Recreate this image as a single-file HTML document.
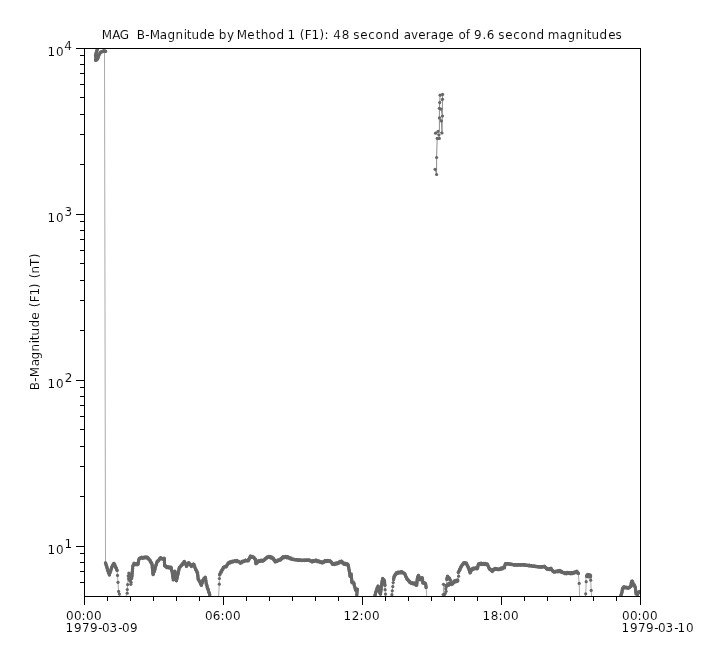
<!DOCTYPE html>
<html lang="en"><head><meta charset="utf-8"><title>MAG B-Magnitude</title>
<style>html,body{margin:0;padding:0;background:#fff}body{width:724px;height:656px;overflow:hidden}svg{display:block;will-change:transform}text{font-kerning:none;font-family:"DejaVu Sans","Liberation Sans",sans-serif;font-size:12px;fill:#000;stroke:#fff;stroke-width:0.1px}</style></head><body>
<svg width="724" height="656" viewBox="0 0 724 656">
<rect width="724" height="656" fill="#fff"/>
<defs><clipPath id="c"><rect x="85" y="49" width="555" height="547"/></clipPath></defs>
<g clip-path="url(#c)">
<g fill="none" stroke="#aaaaaa" stroke-width="1">
<polyline points="104.5,51.0 105.5,563.0"/>
<polyline points="117.1,570.4 117.5,575.4 118.0,582.3 118.6,591.4 119.4,594.1 120.0,596.0"/>
<polyline points="126.0,596.0 127.2,593.2 127.3,589.5 127.6,584.6 128.8,573.0 128.2,575.9 128.5,578.5 131.7,578.5 131.1,582.3 130.8,584.3 129.4,580.3 130.2,576.5 129.6,573.8 130.6,579.6 128.8,573.0"/>
<polyline points="209.7,594.7 210.0,596.0"/>
<polyline points="218.6,596.0 219.3,584.2 219.4,578.5 219.7,574.3"/>
<polyline points="384.9,585.3 385.1,589.7 385.5,594.1 385.6,596.0"/>
<polyline points="426.1,587.5 426.7,596.0"/>
<polyline points="391.8,596.0 391.9,594.7 392.3,590.8 392.8,586.6 393.2,582.6 393.6,579.5"/>
<polyline points="443.3,596.0 443.5,584.3 443.9,596.0"/>
<polyline points="443.6,596.0 443.5,584.3"/>
<polyline points="445.2,593.6 446.1,591.3 445.8,588.8 446.1,586.0 446.8,579.5"/>
<polyline points="457.7,580.3 458.6,576.2 458.3,572.4"/>
<polyline points="578.4,574.8 579.2,583.4 579.6,596.0"/>
<polyline points="585.5,596.0 585.7,593.8 586.2,581.7 585.9,577.6"/>
<polyline points="591.4,577.1 590.7,580.2 591.2,590.4 591.5,596.0"/>
<polyline stroke="#8c8c8c" points="435.1,169.3 436.6,174.5 436.6,157.5 437.2,138.4 439.3,138.4 438.9,134.8 435.5,133.2 438.0,131.4 442.0,133.0 441.4,120.9 439.4,117.9 442.5,116.0 441.0,109.1 439.4,108.3 439.7,102.6 442.5,99.3 442.6,94.4 440.1,95.2 439.4,108.3 439.4,131.0"/>
<polyline stroke="#8c8c8c" points="442.5,99.3 442.0,133.0"/>
</g>
<g fill="none" stroke="#666666" stroke-width="3.0" stroke-linecap="round" stroke-linejoin="round">
<polyline points="95.6,60.3 96.0,57.5 95.5,55.6 96.2,53.0 96.8,51.2 97.3,49.5"/>
<polyline points="96.6,60.0 97.8,58.5 98.9,55.0 100.6,52.3 103.3,51.1 105.6,51.3"/>
<polyline points="105.5,563.0 106.7,566.5 107.8,570.4 109.4,574.8 111.6,567.6 113.8,563.2 116.0,567.6 117.1,570.4"/>
<polyline points="131.9,577.0 132.3,572.0 132.8,566.5 134.0,563.8 138.1,564.3 138.7,559.9 140.4,557.7 147.5,557.7 150.3,561.0 152.0,564.3 153.1,574.8 154.7,569.8 156.9,562.1 160.2,558.2 164.4,558.8 164.6,565.4 166.6,567.1 171.0,567.6 172.2,572.0 173.3,579.8 174.9,571.0 176.4,580.9 178.2,573.1 179.3,567.6 182.1,564.9 184.3,561.5 186.5,566.0 188.7,562.7 191.5,566.0 193.7,564.3 195.9,569.8 197.6,573.1 198.1,578.7 201.4,585.3 203.1,579.8 205.3,577.6 206.4,584.2 208.1,589.7 209.7,594.7"/>
<polyline points="219.7,574.3 221.3,571.5 223.5,567.6 226.3,566.5 228.5,563.2 231.8,561.5 237.3,561.0 240.4,562.7 244.8,561.0 248.2,560.4 250.4,556.6 253.7,557.1 255.3,559.3 255.9,563.8 258.1,561.5 263.6,560.4 266.9,557.7 269.1,556.6 273.0,558.2 275.2,561.5 280.2,559.9 283.0,557.1 287.9,557.1 292.4,559.3 296.8,559.9 302.3,560.4 308.9,560.1 312.2,561.5 315.3,560.4 321.9,562.7 325.3,561.0 330.2,561.0 333.0,564.3 337.4,563.2 341.3,561.5 344.0,563.8 347.9,564.3 349.0,569.3 349.6,573.1 350.1,576.5 351.2,574.3 351.8,582.0 354.0,583.1 354.5,586.4 355.6,589.7 357.3,589.2 356.8,594.7"/>
<polyline points="375.0,595.2 376.1,591.4 378.1,585.9 379.4,591.9 380.5,594.1 381.6,584.2 382.7,578.7 384.4,580.9 384.9,585.3"/>
<polyline points="393.6,579.5 394.1,576.5 396.3,573.1 401.3,572.0 404.6,573.7 406.8,578.7 410.1,582.5 414.5,583.6 416.7,585.3 417.3,578.7 418.4,575.4 420.0,579.8 422.3,577.6 422.8,582.5 425.6,583.6 426.1,587.5"/>
<polyline points="446.1,585.9 449.0,584.5 452.0,583.1 455.0,581.7 457.7,580.3"/>
<polyline points="446.1,586.6 449.0,583.6 452.0,583.9 455.0,580.9 457.7,581.0"/>
<polyline points="446.8,579.5 447.6,576.6 448.6,577.6 450.3,580.0"/>
<polyline points="458.3,572.4 459.8,569.5 461.0,566.8 462.3,564.8 463.8,563.3 465.2,562.9 466.5,563.8 468.4,567.6 470.1,573.1 471.7,569.3 475.0,568.2 477.3,568.7 478.4,564.3 481.7,563.8 487.2,564.3 489.4,568.7 492.2,570.9 494.9,568.7 499.4,569.3 504.3,567.6 505.4,563.8 508.2,563.8 513.7,564.9 523.7,564.9 532.5,566.0 540.2,567.1 544.4,566.5 547.2,569.3 551.0,568.7 553.8,572.0 559.3,570.9 564.9,573.1 573.1,573.1 576.5,571.5 578.4,573.5"/>
<polyline points="586.6,576.4 587.2,575.0 590.2,575.0 590.6,576.3 587.0,576.3"/>
<polyline points="620.9,595.2 622.0,592.5 622.5,588.6 624.2,587.0 628.6,588.1 630.8,586.4 631.4,582.2 632.3,581.2 633.4,584.2 635.0,586.5 635.6,589.8 636.0,593.3 637.4,594.2 638.6,592.2 639.7,591.5"/>
</g>
<path d="M95.6 60.2h0M95.8 58.8h0M96.0 57.6h0M95.8 56.4h0M95.5 55.6h0M95.8 54.2h0M96.2 52.8h0M96.5 52.1h0M96.8 51.0h0M97.0 50.3h0M97.3 49.5h0M96.6 59.8h0M96.9 59.5h0M97.2 59.2h0M97.5 59.0h0M97.8 58.3h0M98.1 57.5h0M98.3 56.8h0M98.6 56.1h0M98.9 55.0h0M99.2 54.5h0M99.5 54.3h0M99.8 53.5h0M100.0 53.3h0M100.3 52.7h0M100.6 52.2h0M100.9 52.0h0M101.2 52.0h0M101.5 52.0h0M101.8 51.6h0M102.1 51.7h0M102.4 51.6h0M102.7 51.3h0M103.0 51.3h0M103.3 50.9h0M103.6 51.0h0M104.0 51.0h0M104.3 51.3h0M104.6 51.2h0M104.9 51.2h0M105.3 51.3h0M105.6 51.3h0M105.5 562.9h0M105.8 563.6h0M106.1 565.1h0M106.4 565.9h0M106.7 566.2h0M107.0 567.6h0M107.2 568.5h0M107.5 569.9h0M107.8 570.7h0M108.1 571.0h0M108.4 572.8h0M108.8 572.5h0M109.1 573.8h0M109.4 575.1h0M109.7 573.3h0M110.0 572.7h0M110.3 571.1h0M110.7 570.9h0M111.0 570.0h0M111.3 568.7h0M111.6 568.1h0M111.9 566.7h0M112.2 566.6h0M112.5 565.8h0M112.9 565.2h0M113.2 564.4h0M113.5 564.3h0M113.8 563.8h0M114.1 563.8h0M114.4 564.7h0M114.7 564.5h0M115.1 566.0h0M115.4 566.5h0M115.7 567.6h0M116.0 568.0h0M116.3 568.0h0M116.5 568.9h0M116.8 569.9h0M117.1 570.4h0M131.9 576.4h0M132.0 575.3h0M132.2 573.2h0M132.3 571.5h0M132.5 569.6h0M132.6 568.7h0M132.8 566.0h0M133.1 565.5h0M133.4 565.0h0M133.7 565.0h0M134.0 563.3h0M134.3 563.8h0M134.6 563.9h0M134.9 564.4h0M135.3 564.4h0M135.6 564.5h0M135.9 563.7h0M136.2 564.0h0M136.5 563.9h0M136.8 564.6h0M137.2 564.8h0M137.5 563.8h0M137.8 563.8h0M138.1 564.0h0M138.3 562.5h0M138.5 561.3h0M138.7 560.0h0M139.0 559.2h0M139.3 558.5h0M139.6 558.7h0M139.8 558.3h0M140.1 558.2h0M140.4 558.3h0M140.7 557.9h0M141.0 557.7h0M141.3 557.9h0M141.6 557.9h0M141.9 557.1h0M142.3 558.2h0M142.6 558.1h0M142.9 558.2h0M143.2 558.1h0M143.5 557.6h0M143.8 557.6h0M144.1 557.2h0M144.4 557.9h0M144.7 557.1h0M145.0 557.1h0M145.3 557.3h0M145.6 557.3h0M146.0 557.5h0M146.3 557.1h0M146.6 557.1h0M146.9 557.2h0M147.2 557.2h0M147.5 557.5h0M147.8 557.4h0M148.1 558.9h0M148.4 558.9h0M148.7 558.7h0M149.1 559.2h0M149.4 559.7h0M149.7 560.1h0M150.0 560.1h0M150.3 561.5h0M150.6 562.2h0M150.9 562.1h0M151.2 562.6h0M151.4 562.7h0M151.7 563.2h0M152.0 564.1h0M152.2 565.5h0M152.3 567.7h0M152.5 568.4h0M152.6 569.7h0M152.8 572.4h0M152.9 573.3h0M153.1 574.3h0M153.4 573.9h0M153.7 572.2h0M154.1 571.8h0M154.4 571.4h0M154.7 570.3h0M155.0 569.0h0M155.3 567.3h0M155.6 566.3h0M156.0 565.0h0M156.3 564.7h0M156.6 563.2h0M156.9 562.5h0M157.2 561.5h0M157.5 561.0h0M157.8 561.4h0M158.1 561.3h0M158.4 560.8h0M158.7 560.4h0M159.0 560.0h0M159.3 559.6h0M159.6 558.6h0M159.9 558.6h0M160.2 558.0h0M160.5 557.6h0M160.8 557.7h0M161.1 558.0h0M161.4 558.1h0M161.7 558.7h0M162.0 559.1h0M162.3 558.4h0M162.6 559.1h0M162.9 559.2h0M163.2 559.2h0M163.5 558.5h0M163.8 558.4h0M164.1 558.4h0M164.4 558.4h0M164.4 560.1h0M164.5 562.3h0M164.6 564.3h0M164.6 565.8h0M164.9 565.7h0M165.3 566.2h0M165.6 566.6h0M165.9 566.0h0M166.3 567.0h0M166.6 567.6h0M166.9 567.5h0M167.2 567.5h0M167.5 567.2h0M167.9 566.8h0M168.2 567.7h0M168.5 567.1h0M168.8 567.7h0M169.1 568.0h0M169.4 567.3h0M169.7 567.3h0M170.1 568.1h0M170.4 567.8h0M170.7 567.1h0M171.0 567.1h0M171.3 568.2h0M171.6 570.3h0M171.9 571.3h0M172.2 571.5h0M172.4 574.0h0M172.6 575.7h0M172.9 576.9h0M173.1 578.0h0M173.3 579.9h0M173.6 577.9h0M173.8 576.2h0M174.1 576.0h0M174.4 574.1h0M174.6 572.5h0M174.9 571.6h0M175.2 572.6h0M175.4 574.8h0M175.7 576.4h0M175.9 577.2h0M176.2 578.9h0M176.4 580.6h0M176.7 579.3h0M177.0 578.4h0M177.3 576.7h0M177.6 575.6h0M177.9 573.9h0M178.2 573.6h0M178.5 571.5h0M178.8 570.3h0M179.0 569.1h0M179.3 568.1h0M179.6 567.2h0M179.9 567.5h0M180.2 566.7h0M180.5 566.4h0M180.9 566.1h0M181.2 565.2h0M181.5 565.4h0M181.8 564.8h0M182.1 564.3h0M182.4 564.8h0M182.7 563.5h0M183.0 563.4h0M183.4 563.2h0M183.7 562.5h0M184.0 561.8h0M184.3 561.5h0M184.6 562.2h0M184.9 563.2h0M185.2 562.9h0M185.6 564.1h0M185.9 564.4h0M186.2 565.1h0M186.5 566.4h0M186.8 565.5h0M187.1 565.1h0M187.4 564.9h0M187.8 564.7h0M188.1 563.6h0M188.4 563.3h0M188.7 562.7h0M189.0 563.1h0M189.3 563.7h0M189.6 563.7h0M189.9 564.2h0M190.3 564.5h0M190.6 565.5h0M190.9 565.5h0M191.2 566.1h0M191.5 566.6h0M191.8 565.4h0M192.1 565.6h0M192.4 565.8h0M192.8 565.5h0M193.1 564.3h0M193.4 564.1h0M193.7 564.2h0M194.0 564.5h0M194.3 565.5h0M194.6 566.1h0M195.0 567.7h0M195.3 568.6h0M195.6 569.5h0M195.9 569.4h0M196.2 570.6h0M196.5 571.1h0M196.8 571.0h0M197.0 572.5h0M197.3 573.2h0M197.6 572.7h0M197.7 575.1h0M197.8 575.8h0M198.0 577.3h0M198.1 579.3h0M198.4 579.7h0M198.7 579.5h0M199.0 580.4h0M199.3 581.1h0M199.6 581.5h0M199.9 581.9h0M200.2 582.7h0M200.5 583.8h0M200.8 583.5h0M201.1 584.8h0M201.4 585.2h0M201.7 583.8h0M202.0 583.2h0M202.2 582.7h0M202.5 581.6h0M202.8 580.2h0M203.1 580.4h0M203.4 579.9h0M203.7 579.8h0M204.0 578.3h0M204.4 578.2h0M204.7 577.6h0M205.0 578.3h0M205.3 577.3h0M205.6 578.8h0M205.9 580.8h0M206.1 583.1h0M206.4 584.6h0M206.7 584.8h0M207.0 585.6h0M207.2 587.5h0M207.5 588.0h0M207.8 589.0h0M208.1 589.2h0M208.4 590.1h0M208.7 591.9h0M209.1 592.6h0M209.4 593.1h0M209.7 594.7h0M219.7 574.9h0M220.0 573.9h0M220.3 573.6h0M220.7 572.1h0M221.0 572.5h0M221.3 570.9h0M221.6 571.4h0M221.9 570.3h0M222.2 569.6h0M222.6 569.3h0M222.9 569.3h0M223.2 567.9h0M223.5 567.1h0M223.8 567.5h0M224.1 567.0h0M224.4 566.7h0M224.7 566.7h0M225.1 566.4h0M225.4 566.5h0M225.7 566.5h0M226.0 566.4h0M226.3 566.8h0M226.6 565.8h0M226.9 565.6h0M227.2 564.7h0M227.6 564.4h0M227.9 563.5h0M228.2 563.3h0M228.5 562.6h0M228.8 563.3h0M229.1 563.0h0M229.4 562.3h0M229.7 562.5h0M230.0 563.0h0M230.3 561.8h0M230.6 562.5h0M230.9 561.9h0M231.2 561.8h0M231.5 562.1h0M231.8 561.4h0M232.1 561.5h0M232.4 561.7h0M232.7 562.0h0M233.0 561.2h0M233.3 561.8h0M233.6 561.6h0M233.9 561.5h0M234.2 561.2h0M234.6 561.1h0M234.9 560.6h0M235.2 560.7h0M235.5 560.6h0M235.8 561.5h0M236.1 560.8h0M236.4 560.6h0M236.7 560.5h0M237.0 561.5h0M237.3 561.5h0M237.6 561.4h0M237.9 561.1h0M238.2 561.2h0M238.5 561.4h0M238.9 561.8h0M239.2 561.6h0M239.5 562.1h0M239.8 562.1h0M240.1 563.1h0M240.4 563.3h0M240.7 562.6h0M241.0 562.1h0M241.3 562.9h0M241.7 562.0h0M242.0 561.9h0M242.3 561.3h0M242.6 561.7h0M242.9 561.7h0M243.2 561.6h0M243.5 561.1h0M243.9 561.4h0M244.2 560.6h0M244.5 560.8h0M244.8 560.5h0M245.1 560.8h0M245.4 560.3h0M245.7 560.2h0M246.0 560.5h0M246.3 560.4h0M246.7 560.8h0M247.0 560.7h0M247.3 560.9h0M247.6 560.7h0M247.9 560.7h0M248.2 560.9h0M248.5 559.7h0M248.8 559.1h0M249.1 559.4h0M249.5 557.8h0M249.8 558.0h0M250.1 557.3h0M250.4 556.0h0M250.7 557.1h0M251.0 557.2h0M251.3 556.9h0M251.6 557.1h0M251.9 557.2h0M252.2 556.4h0M252.5 556.9h0M252.8 557.0h0M253.1 557.4h0M253.4 557.5h0M253.7 557.5h0M254.0 557.6h0M254.3 558.5h0M254.7 558.7h0M255.0 559.1h0M255.3 558.9h0M255.5 560.2h0M255.7 561.8h0M255.9 563.6h0M256.2 563.0h0M256.5 563.6h0M256.8 562.9h0M257.2 562.7h0M257.5 562.3h0M257.8 562.1h0M258.1 561.5h0M258.4 560.8h0M258.7 561.8h0M259.0 561.6h0M259.3 561.3h0M259.6 561.2h0M259.9 561.3h0M260.2 560.5h0M260.5 561.3h0M260.9 560.6h0M261.2 560.3h0M261.5 560.5h0M261.8 561.1h0M262.1 560.3h0M262.4 561.0h0M262.7 561.2h0M263.0 560.5h0M263.3 560.3h0M263.6 560.4h0M263.9 560.4h0M264.2 560.3h0M264.5 559.8h0M264.8 559.6h0M265.1 558.6h0M265.4 558.5h0M265.7 558.4h0M266.0 558.8h0M266.3 557.9h0M266.6 558.0h0M266.9 557.1h0M267.2 557.0h0M267.5 557.1h0M267.8 557.5h0M268.2 557.3h0M268.5 557.1h0M268.8 556.5h0M269.1 556.6h0M269.4 556.7h0M269.7 556.8h0M270.0 556.5h0M270.3 557.6h0M270.6 556.8h0M270.9 558.0h0M271.2 558.0h0M271.5 557.0h0M271.8 557.7h0M272.1 558.2h0M272.4 558.6h0M272.7 558.0h0M273.0 557.9h0M273.3 558.3h0M273.6 559.7h0M273.9 559.2h0M274.3 560.2h0M274.6 560.1h0M274.9 561.1h0M275.2 562.1h0M275.5 560.9h0M275.8 561.7h0M276.1 561.2h0M276.4 561.6h0M276.8 561.3h0M277.1 560.6h0M277.4 561.3h0M277.7 560.7h0M278.0 560.0h0M278.3 559.9h0M278.6 560.4h0M278.9 560.2h0M279.3 559.9h0M279.6 559.6h0M279.9 559.8h0M280.2 559.7h0M280.5 560.0h0M280.8 558.6h0M281.1 559.3h0M281.4 559.1h0M281.8 557.9h0M282.1 558.6h0M282.4 558.0h0M282.7 557.9h0M283.0 556.8h0M283.3 556.9h0M283.6 557.0h0M283.9 557.7h0M284.2 557.2h0M284.5 556.9h0M284.8 557.0h0M285.1 556.8h0M285.4 556.5h0M285.8 556.6h0M286.1 557.5h0M286.4 556.8h0M286.7 557.7h0M287.0 556.8h0M287.3 556.8h0M287.6 557.1h0M287.9 556.7h0M288.2 557.1h0M288.5 558.0h0M288.8 558.0h0M289.1 558.1h0M289.4 558.0h0M289.7 558.5h0M290.0 558.7h0M290.3 558.3h0M290.6 558.7h0M290.9 558.0h0M291.2 559.0h0M291.5 558.8h0M291.8 559.3h0M292.1 559.2h0M292.4 559.2h0M292.7 559.1h0M293.0 559.6h0M293.3 559.2h0M293.7 559.5h0M294.0 559.4h0M294.3 559.5h0M294.6 559.7h0M294.9 559.9h0M295.2 559.6h0M295.5 559.8h0M295.9 559.7h0M296.2 559.8h0M296.5 559.8h0M296.8 559.7h0M297.1 559.8h0M297.4 559.8h0M297.7 560.2h0M298.0 560.0h0M298.3 559.9h0M298.6 560.3h0M298.9 560.3h0M299.2 560.1h0M299.6 560.0h0M299.9 560.0h0M300.2 560.0h0M300.5 560.2h0M300.8 560.1h0M301.1 560.2h0M301.4 560.2h0M301.7 560.4h0M302.0 560.6h0M302.3 560.5h0M302.6 560.3h0M302.9 560.3h0M303.2 560.4h0M303.6 560.3h0M303.9 560.2h0M304.2 560.1h0M304.5 560.2h0M304.8 560.5h0M305.1 560.1h0M305.4 560.3h0M305.8 560.3h0M306.1 560.4h0M306.4 560.1h0M306.7 560.1h0M307.0 560.1h0M307.3 560.1h0M307.6 560.1h0M308.0 560.4h0M308.3 560.3h0M308.6 560.3h0M308.9 559.9h0M309.2 560.0h0M309.5 560.5h0M309.8 560.7h0M310.1 560.6h0M310.4 560.8h0M310.7 560.6h0M311.0 560.9h0M311.3 561.3h0M311.6 561.4h0M311.9 561.6h0M312.2 562.1h0M312.5 561.1h0M312.8 560.8h0M313.1 560.7h0M313.4 561.1h0M313.8 561.2h0M314.1 561.4h0M314.4 561.0h0M314.7 560.8h0M315.0 560.9h0M315.3 560.3h0M315.6 560.6h0M315.9 560.0h0M316.2 561.1h0M316.6 560.5h0M316.9 561.5h0M317.2 561.2h0M317.5 560.9h0M317.8 560.8h0M318.1 561.1h0M318.4 561.7h0M318.8 561.9h0M319.1 561.2h0M319.4 561.3h0M319.7 562.0h0M320.0 562.2h0M320.3 562.0h0M320.6 561.9h0M321.0 562.5h0M321.3 561.8h0M321.6 562.3h0M321.9 562.6h0M322.2 563.1h0M322.5 562.6h0M322.8 562.7h0M323.1 562.0h0M323.4 561.6h0M323.8 561.4h0M324.1 562.2h0M324.4 561.7h0M324.7 561.1h0M325.0 560.5h0M325.3 561.0h0M325.6 561.2h0M325.9 560.9h0M326.2 560.7h0M326.5 561.2h0M326.8 561.6h0M327.1 560.6h0M327.4 560.4h0M327.8 560.8h0M328.1 560.9h0M328.4 561.2h0M328.7 560.6h0M329.0 561.4h0M329.3 561.3h0M329.6 561.0h0M329.9 560.6h0M330.2 561.6h0M330.5 561.1h0M330.8 562.1h0M331.1 561.8h0M331.4 562.1h0M331.8 563.2h0M332.1 562.9h0M332.4 564.2h0M332.7 563.9h0M333.0 563.9h0M333.3 563.9h0M333.6 564.0h0M333.9 564.3h0M334.3 564.6h0M334.6 563.4h0M334.9 563.7h0M335.2 563.4h0M335.5 564.3h0M335.8 563.1h0M336.1 562.9h0M336.5 562.9h0M336.8 563.2h0M337.1 563.8h0M337.4 563.7h0M337.7 563.4h0M338.0 563.6h0M338.3 563.4h0M338.6 562.5h0M338.9 562.1h0M339.2 563.0h0M339.5 562.6h0M339.8 561.5h0M340.1 562.2h0M340.4 561.7h0M340.7 561.6h0M341.0 561.4h0M341.3 561.1h0M341.6 561.1h0M341.9 561.7h0M342.2 562.1h0M342.5 563.1h0M342.8 562.3h0M343.1 563.6h0M343.4 562.9h0M343.7 563.4h0M344.0 564.2h0M344.3 564.3h0M344.6 563.8h0M344.9 563.3h0M345.2 563.9h0M345.5 563.8h0M345.8 564.6h0M346.1 563.7h0M346.4 563.9h0M346.7 564.7h0M347.0 563.6h0M347.3 564.1h0M347.6 564.7h0M347.9 564.6h0M348.2 565.0h0M348.4 566.2h0M348.7 567.5h0M349.0 569.8h0M349.3 570.9h0M349.6 573.4h0M349.9 575.3h0M350.1 576.3h0M350.4 575.7h0M350.6 576.0h0M350.9 575.0h0M351.2 574.0h0M351.3 576.1h0M351.4 577.1h0M351.6 578.6h0M351.7 579.8h0M351.8 582.3h0M352.1 582.7h0M352.4 582.5h0M352.7 583.0h0M353.1 582.0h0M353.4 582.4h0M353.7 582.9h0M354.0 583.7h0M354.2 585.3h0M354.5 586.3h0M354.8 586.9h0M355.1 588.0h0M355.3 588.9h0M355.6 590.3h0M355.9 589.2h0M356.2 589.9h0M356.5 589.8h0M356.7 589.8h0M357.0 589.6h0M357.3 589.3h0M357.1 590.8h0M357.0 592.6h0M356.8 594.7h0M375.0 595.0h0M375.3 594.6h0M375.6 592.8h0M375.8 592.0h0M376.1 591.7h0M376.4 590.2h0M376.8 589.0h0M377.1 588.0h0M377.4 587.8h0M377.8 586.6h0M378.1 586.5h0M378.4 587.9h0M378.8 589.5h0M379.1 590.1h0M379.4 591.4h0M379.7 591.9h0M379.9 593.0h0M380.2 593.8h0M380.5 594.0h0M380.7 592.1h0M380.9 590.7h0M381.1 589.3h0M381.2 587.7h0M381.4 586.2h0M381.6 584.7h0M381.9 583.0h0M382.1 581.0h0M382.4 580.5h0M382.7 578.4h0M383.0 579.2h0M383.3 579.3h0M383.5 580.1h0M383.8 579.8h0M384.1 580.2h0M384.4 580.6h0M384.6 581.9h0M384.7 584.3h0M384.9 585.3h0M393.6 579.6h0M393.9 577.8h0M394.1 576.4h0M394.4 576.7h0M394.7 575.5h0M395.0 574.7h0M395.4 575.0h0M395.7 574.3h0M396.0 574.2h0M396.3 572.6h0M396.6 573.0h0M396.9 573.4h0M397.2 573.3h0M397.6 573.4h0M397.9 572.2h0M398.2 572.4h0M398.5 572.1h0M398.8 572.1h0M399.1 573.1h0M399.4 572.5h0M399.7 572.9h0M400.1 572.1h0M400.4 572.7h0M400.7 572.1h0M401.0 571.8h0M401.3 572.4h0M401.6 572.7h0M401.9 571.8h0M402.2 572.6h0M402.5 572.8h0M402.8 572.4h0M403.1 572.8h0M403.4 572.6h0M403.7 572.9h0M404.0 573.1h0M404.3 573.7h0M404.6 573.9h0M404.9 574.0h0M405.2 574.5h0M405.5 575.6h0M405.9 576.8h0M406.2 576.9h0M406.5 577.7h0M406.8 578.3h0M407.1 579.4h0M407.4 579.5h0M407.7 579.2h0M408.0 579.6h0M408.3 580.3h0M408.6 580.8h0M408.9 581.3h0M409.2 580.9h0M409.5 581.4h0M409.8 582.4h0M410.1 582.4h0M410.4 582.3h0M410.7 582.4h0M411.0 583.3h0M411.4 582.6h0M411.7 583.0h0M412.0 582.8h0M412.3 582.9h0M412.6 583.6h0M412.9 583.9h0M413.2 583.1h0M413.6 583.0h0M413.9 583.7h0M414.2 583.1h0M414.5 583.0h0M414.8 584.4h0M415.1 584.0h0M415.4 584.7h0M415.8 584.4h0M416.1 585.3h0M416.4 585.0h0M416.7 584.9h0M416.9 583.0h0M417.0 582.1h0M417.1 580.5h0M417.3 579.2h0M417.6 577.3h0M417.9 577.2h0M418.1 576.1h0M418.4 575.4h0M418.7 575.8h0M419.0 576.9h0M419.4 578.1h0M419.7 579.5h0M420.0 579.3h0M420.3 579.5h0M420.7 579.6h0M421.0 579.5h0M421.3 578.1h0M421.6 577.7h0M422.0 578.5h0M422.3 578.2h0M422.5 579.2h0M422.6 580.3h0M422.8 583.1h0M423.1 582.5h0M423.4 583.3h0M423.7 583.0h0M424.0 583.4h0M424.4 582.7h0M424.7 583.6h0M425.0 583.0h0M425.3 583.4h0M425.6 584.1h0M425.9 586.0h0M426.1 587.5h0M446.1 585.5h0M446.4 585.4h0M446.7 585.5h0M447.1 585.5h0M447.4 585.1h0M447.7 584.6h0M448.0 584.6h0M448.4 585.1h0M448.7 585.2h0M449.0 583.9h0M449.3 584.4h0M449.6 584.6h0M449.9 583.5h0M450.2 584.4h0M450.5 583.3h0M450.8 583.8h0M451.1 583.6h0M451.4 583.5h0M451.7 583.0h0M452.0 583.0h0M452.3 583.1h0M452.6 582.7h0M452.9 582.9h0M453.2 582.5h0M453.5 582.3h0M453.8 581.6h0M454.1 582.3h0M454.4 582.0h0M454.7 581.5h0M455.0 582.0h0M455.3 581.9h0M455.6 581.3h0M455.9 580.8h0M456.2 581.0h0M456.5 580.4h0M456.8 580.3h0M457.1 580.5h0M457.4 579.9h0M457.7 580.3h0M446.1 586.5h0M446.4 586.3h0M446.7 585.3h0M447.1 585.8h0M447.4 584.7h0M447.7 585.2h0M448.0 585.0h0M448.4 584.3h0M448.7 583.4h0M449.0 583.6h0M449.3 583.5h0M449.6 584.2h0M449.9 583.2h0M450.2 584.2h0M450.5 584.4h0M450.8 584.1h0M451.1 584.2h0M451.4 583.4h0M451.7 584.5h0M452.0 583.9h0M452.3 584.2h0M452.6 583.8h0M452.9 582.6h0M453.2 583.1h0M453.5 583.0h0M453.8 581.5h0M454.1 581.6h0M454.4 581.8h0M454.7 580.8h0M455.0 581.4h0M455.3 580.6h0M455.6 581.3h0M455.9 580.5h0M456.2 580.9h0M456.5 581.5h0M456.8 580.6h0M457.1 580.7h0M457.4 581.0h0M457.7 581.0h0M446.8 579.3h0M447.1 577.9h0M447.3 577.2h0M447.6 576.2h0M447.9 577.5h0M448.3 577.5h0M448.6 578.1h0M448.9 577.6h0M449.2 578.8h0M449.5 578.3h0M449.7 579.2h0M450.0 579.8h0M450.3 580.0h0M458.3 572.2h0M458.6 572.3h0M458.9 571.3h0M459.2 570.8h0M459.5 570.6h0M459.8 569.0h0M460.1 569.5h0M460.4 568.3h0M460.7 567.3h0M461.0 567.2h0M461.3 566.0h0M461.6 566.4h0M462.0 565.4h0M462.3 564.6h0M462.6 564.8h0M462.9 564.1h0M463.2 563.5h0M463.5 563.9h0M463.8 562.7h0M464.1 563.6h0M464.4 562.8h0M464.6 563.2h0M464.9 563.6h0M465.2 563.0h0M465.5 563.3h0M465.9 563.1h0M466.2 562.9h0M466.5 563.2h0M466.8 564.0h0M467.1 565.2h0M467.4 565.6h0M467.8 566.3h0M468.1 567.5h0M468.4 567.1h0M468.7 568.2h0M469.0 569.6h0M469.2 569.7h0M469.5 570.6h0M469.8 572.0h0M470.1 572.6h0M470.4 572.2h0M470.7 571.2h0M471.1 570.9h0M471.4 570.2h0M471.7 568.9h0M472.0 569.4h0M472.3 569.1h0M472.6 568.5h0M472.9 569.5h0M473.2 568.5h0M473.5 568.2h0M473.8 568.1h0M474.1 568.7h0M474.4 568.9h0M474.7 568.7h0M475.0 568.1h0M475.3 568.0h0M475.7 567.7h0M476.0 568.6h0M476.3 568.6h0M476.6 568.4h0M477.0 568.8h0M477.3 568.6h0M477.6 568.2h0M477.9 566.8h0M478.1 565.1h0M478.4 564.8h0M478.7 563.7h0M479.0 564.3h0M479.3 564.0h0M479.6 563.8h0M479.9 563.5h0M480.2 564.4h0M480.5 563.3h0M480.8 564.0h0M481.1 564.5h0M481.4 563.4h0M481.7 563.4h0M482.0 564.0h0M482.3 563.9h0M482.6 564.1h0M482.9 564.3h0M483.2 563.5h0M483.5 563.7h0M483.8 563.7h0M484.1 563.4h0M484.4 564.6h0M484.8 564.4h0M485.1 564.4h0M485.4 563.5h0M485.7 564.6h0M486.0 564.5h0M486.3 564.2h0M486.6 564.6h0M486.9 564.2h0M487.2 563.9h0M487.5 564.4h0M487.8 565.2h0M488.1 565.6h0M488.5 566.6h0M488.8 567.8h0M489.1 568.3h0M489.4 569.1h0M489.7 569.2h0M490.0 568.9h0M490.3 569.5h0M490.6 569.6h0M491.0 570.3h0M491.3 570.2h0M491.6 570.1h0M491.9 570.8h0M492.2 571.5h0M492.5 570.3h0M492.8 570.9h0M493.1 569.5h0M493.4 569.6h0M493.7 569.3h0M494.0 569.8h0M494.3 569.8h0M494.6 569.3h0M494.9 568.5h0M495.2 569.2h0M495.5 568.6h0M495.8 568.5h0M496.1 569.4h0M496.4 569.1h0M496.7 569.2h0M497.0 569.2h0M497.3 569.6h0M497.6 569.0h0M497.9 569.5h0M498.2 569.4h0M498.5 569.6h0M498.8 569.1h0M499.1 569.6h0M499.4 569.4h0M499.7 568.9h0M500.0 568.7h0M500.3 569.1h0M500.6 568.3h0M500.9 569.3h0M501.2 568.2h0M501.5 567.9h0M501.9 567.9h0M502.2 568.9h0M502.5 568.0h0M502.8 567.7h0M503.1 567.4h0M503.4 567.3h0M503.7 568.1h0M504.0 567.9h0M504.3 567.9h0M504.6 567.0h0M504.9 565.1h0M505.1 564.8h0M505.4 563.7h0M505.7 564.0h0M506.0 564.0h0M506.3 564.0h0M506.6 563.6h0M507.0 564.0h0M507.3 564.0h0M507.6 564.0h0M507.9 563.6h0M508.2 563.7h0M508.5 563.7h0M508.8 563.7h0M509.1 564.2h0M509.4 564.2h0M509.7 564.2h0M510.0 564.3h0M510.3 564.3h0M510.6 564.2h0M511.0 564.1h0M511.3 564.2h0M511.6 564.6h0M511.9 564.4h0M512.2 564.5h0M512.5 564.6h0M512.8 564.5h0M513.1 564.7h0M513.4 564.7h0M513.7 565.0h0M514.0 564.8h0M514.3 564.8h0M514.6 565.1h0M515.0 564.9h0M515.3 565.1h0M515.6 565.0h0M515.9 564.7h0M516.2 564.9h0M516.5 564.9h0M516.8 565.0h0M517.1 564.8h0M517.5 565.0h0M517.8 564.9h0M518.1 564.8h0M518.4 565.1h0M518.7 564.7h0M519.0 565.1h0M519.3 564.7h0M519.6 564.7h0M520.0 564.8h0M520.3 565.0h0M520.6 565.1h0M520.9 564.7h0M521.2 564.9h0M521.5 564.9h0M521.8 565.0h0M522.1 564.7h0M522.5 564.9h0M522.8 564.8h0M523.1 565.1h0M523.4 564.8h0M523.7 565.1h0M524.0 564.8h0M524.3 564.8h0M524.6 565.1h0M525.0 565.1h0M525.3 564.9h0M525.6 565.2h0M525.9 565.0h0M526.2 565.4h0M526.5 565.4h0M526.8 565.4h0M527.2 565.4h0M527.5 565.3h0M527.8 565.4h0M528.1 565.4h0M528.4 565.7h0M528.7 565.3h0M529.0 565.8h0M529.4 565.4h0M529.7 565.5h0M530.0 565.6h0M530.3 565.9h0M530.6 565.8h0M530.9 565.7h0M531.2 566.0h0M531.6 565.7h0M531.9 565.9h0M532.2 566.0h0M532.5 566.1h0M532.8 566.2h0M533.1 566.2h0M533.4 566.1h0M533.7 566.1h0M534.0 566.0h0M534.3 566.4h0M534.7 566.4h0M535.0 566.5h0M535.3 566.2h0M535.6 566.4h0M535.9 566.6h0M536.2 566.6h0M536.5 566.4h0M536.8 566.6h0M537.1 566.9h0M537.4 566.6h0M537.7 566.6h0M538.0 566.7h0M538.4 566.9h0M538.7 567.1h0M539.0 566.8h0M539.3 566.8h0M539.6 566.9h0M539.9 567.0h0M540.2 567.1h0M540.5 566.9h0M540.8 566.9h0M541.1 566.8h0M541.4 567.2h0M541.7 567.0h0M542.0 566.6h0M542.3 567.0h0M542.6 566.6h0M542.9 566.7h0M543.2 566.9h0M543.5 566.8h0M543.8 566.7h0M544.1 566.5h0M544.4 566.3h0M544.7 566.9h0M545.0 566.9h0M545.3 567.3h0M545.6 567.7h0M546.0 567.8h0M546.3 568.3h0M546.6 568.8h0M546.9 569.1h0M547.2 569.3h0M547.5 569.3h0M547.8 569.2h0M548.2 568.7h0M548.5 569.2h0M548.8 568.9h0M549.1 569.3h0M549.4 569.5h0M549.7 568.8h0M550.0 568.9h0M550.4 569.1h0M550.7 568.6h0M551.0 568.3h0M551.3 569.4h0M551.6 569.9h0M551.9 570.2h0M552.2 570.4h0M552.6 571.0h0M552.9 571.1h0M553.2 571.5h0M553.5 571.6h0M553.8 571.8h0M554.1 572.1h0M554.4 571.4h0M554.7 571.7h0M555.0 572.1h0M555.3 572.0h0M555.6 571.8h0M555.9 571.2h0M556.2 571.4h0M556.5 571.4h0M556.9 571.5h0M557.2 571.2h0M557.5 571.5h0M557.8 571.8h0M558.1 570.7h0M558.4 571.3h0M558.7 571.4h0M559.0 570.8h0M559.3 570.9h0M559.6 571.6h0M559.9 570.5h0M560.2 571.3h0M560.5 570.9h0M560.9 571.9h0M561.2 572.2h0M561.5 571.8h0M561.8 571.4h0M562.1 572.1h0M562.4 572.2h0M562.7 572.5h0M563.0 572.4h0M563.3 572.7h0M563.7 573.0h0M564.0 572.8h0M564.3 572.7h0M564.6 573.6h0M564.9 572.7h0M565.2 573.3h0M565.5 573.0h0M565.8 573.4h0M566.1 572.6h0M566.4 573.7h0M566.7 572.9h0M567.0 572.5h0M567.3 572.8h0M567.6 573.0h0M567.9 572.5h0M568.2 573.0h0M568.5 573.0h0M568.8 573.4h0M569.2 572.9h0M569.5 572.8h0M569.8 572.7h0M570.1 573.4h0M570.4 573.7h0M570.7 573.1h0M571.0 572.7h0M571.3 573.5h0M571.6 573.0h0M571.9 572.7h0M572.2 572.6h0M572.5 573.5h0M572.8 573.5h0M573.1 573.3h0M573.4 572.9h0M573.7 572.9h0M574.0 572.3h0M574.3 573.1h0M574.6 572.2h0M575.0 572.4h0M575.3 572.5h0M575.6 572.3h0M575.9 571.7h0M576.2 571.4h0M576.5 571.6h0M576.8 571.3h0M577.1 572.6h0M577.5 572.3h0M577.8 573.3h0M578.1 572.9h0M578.4 573.5h0M586.6 576.2h0M586.9 575.4h0M587.2 574.9h0M587.5 574.6h0M587.8 574.4h0M588.1 575.3h0M588.4 574.7h0M588.7 574.7h0M589.0 574.7h0M589.3 575.0h0M589.6 574.9h0M589.9 575.2h0M590.2 575.2h0M590.6 576.1h0M590.3 576.9h0M590.0 576.8h0M589.7 575.7h0M589.4 576.7h0M589.1 576.8h0M588.8 576.7h0M588.5 575.8h0M588.2 576.7h0M587.9 576.5h0M587.6 575.7h0M587.3 575.7h0M587.0 576.3h0M620.9 595.8h0M621.2 594.7h0M621.5 593.5h0M621.7 592.7h0M622.0 592.0h0M622.2 590.2h0M622.5 589.0h0M622.8 588.1h0M623.1 587.6h0M623.4 588.3h0M623.6 587.9h0M623.9 586.8h0M624.2 587.5h0M624.5 587.2h0M624.8 587.5h0M625.1 587.5h0M625.5 587.8h0M625.8 587.8h0M626.1 587.9h0M626.4 587.2h0M626.7 587.9h0M627.0 587.7h0M627.3 588.1h0M627.7 587.8h0M628.0 588.4h0M628.3 588.1h0M628.6 587.8h0M628.9 587.5h0M629.2 587.1h0M629.5 587.4h0M629.9 586.6h0M630.2 586.8h0M630.5 586.2h0M630.8 586.4h0M631.0 585.0h0M631.2 583.7h0M631.4 582.7h0M631.7 581.2h0M632.0 582.0h0M632.3 581.2h0M632.6 582.0h0M632.8 582.9h0M633.1 583.9h0M633.4 584.0h0M633.7 584.6h0M634.0 585.7h0M634.4 585.0h0M634.7 586.2h0M635.0 586.7h0M635.3 587.5h0M635.6 589.9h0M635.8 591.8h0M636.0 593.9h0M636.3 593.3h0M636.6 594.3h0M636.8 593.9h0M637.1 594.0h0M637.4 594.7h0M637.7 593.1h0M638.0 593.5h0M638.3 592.9h0M638.6 592.0h0M638.9 592.5h0M639.2 591.7h0M639.4 591.6h0M639.7 591.5h0" fill="none" stroke="#666666" stroke-width="3.4" stroke-linecap="round"/>
<g fill="#666666">
<circle cx="117.5" cy="575.4" r="1.6"/>
<circle cx="118.0" cy="582.3" r="1.6"/>
<circle cx="118.6" cy="591.4" r="1.6"/>
<circle cx="119.4" cy="594.1" r="1.6"/>
<circle cx="127.2" cy="593.2" r="1.6"/>
<circle cx="127.3" cy="589.5" r="1.6"/>
<circle cx="127.6" cy="584.6" r="1.6"/>
<circle cx="128.8" cy="573.0" r="1.6"/>
<circle cx="128.2" cy="575.9" r="1.6"/>
<circle cx="128.5" cy="578.5" r="1.6"/>
<circle cx="131.7" cy="578.5" r="1.6"/>
<circle cx="131.1" cy="582.3" r="1.6"/>
<circle cx="130.8" cy="584.3" r="1.6"/>
<circle cx="129.4" cy="580.3" r="1.6"/>
<circle cx="130.2" cy="576.5" r="1.6"/>
<circle cx="129.6" cy="573.8" r="1.6"/>
<circle cx="130.6" cy="579.6" r="1.6"/>
<circle cx="219.3" cy="584.2" r="1.6"/>
<circle cx="219.4" cy="578.5" r="1.6"/>
<circle cx="385.1" cy="589.7" r="1.6"/>
<circle cx="385.5" cy="594.1" r="1.6"/>
<circle cx="391.9" cy="594.7" r="1.6"/>
<circle cx="392.3" cy="590.8" r="1.6"/>
<circle cx="392.8" cy="586.6" r="1.6"/>
<circle cx="393.2" cy="582.6" r="1.6"/>
<circle cx="443.5" cy="584.3" r="1.6"/>
<circle cx="443.2" cy="594.5" r="1.6"/>
<circle cx="446.1" cy="591.3" r="1.6"/>
<circle cx="445.2" cy="593.6" r="1.6"/>
<circle cx="444.4" cy="594.6" r="1.6"/>
<circle cx="445.8" cy="588.8" r="1.6"/>
<circle cx="458.6" cy="576.2" r="1.6"/>
<circle cx="579.2" cy="583.4" r="1.6"/>
<circle cx="585.7" cy="593.8" r="1.6"/>
<circle cx="586.2" cy="581.7" r="1.6"/>
<circle cx="590.7" cy="580.2" r="1.6"/>
<circle cx="591.2" cy="590.4" r="1.6"/>
<circle cx="440.1" cy="95.2" r="1.6"/>
<circle cx="442.6" cy="94.4" r="1.6"/>
<circle cx="442.5" cy="99.3" r="1.6"/>
<circle cx="439.7" cy="102.6" r="1.6"/>
<circle cx="439.4" cy="108.3" r="1.6"/>
<circle cx="441.0" cy="109.1" r="1.6"/>
<circle cx="442.5" cy="116.0" r="1.6"/>
<circle cx="439.4" cy="117.9" r="1.6"/>
<circle cx="441.4" cy="120.9" r="1.6"/>
<circle cx="438.0" cy="131.4" r="1.6"/>
<circle cx="435.5" cy="133.2" r="1.6"/>
<circle cx="442.0" cy="133.0" r="1.6"/>
<circle cx="438.9" cy="134.8" r="1.6"/>
<circle cx="437.2" cy="138.4" r="1.6"/>
<circle cx="439.3" cy="138.4" r="1.6"/>
<circle cx="436.6" cy="157.5" r="1.6"/>
<circle cx="435.1" cy="169.3" r="1.6"/>
<circle cx="436.6" cy="174.5" r="1.6"/>
</g></g>
<g fill="#000" shape-rendering="crispEdges">
<rect x="84" y="48" width="557" height="1"/>
<rect x="84" y="596" width="557" height="1"/>
<rect x="84" y="48" width="1" height="549"/>
<rect x="640" y="48" width="1" height="549"/>
<rect x="76" y="546" width="8" height="1"/>
<rect x="76" y="380" width="8" height="1"/>
<rect x="76" y="214" width="8" height="1"/>
<rect x="76" y="48" width="8" height="1"/>
<rect x="80" y="582" width="4" height="1"/>
<rect x="80" y="571" width="4" height="1"/>
<rect x="80" y="562" width="4" height="1"/>
<rect x="80" y="553" width="4" height="1"/>
<rect x="80" y="496" width="4" height="1"/>
<rect x="80" y="466" width="4" height="1"/>
<rect x="80" y="446" width="4" height="1"/>
<rect x="80" y="429" width="4" height="1"/>
<rect x="80" y="416" width="4" height="1"/>
<rect x="80" y="405" width="4" height="1"/>
<rect x="80" y="396" width="4" height="1"/>
<rect x="80" y="387" width="4" height="1"/>
<rect x="80" y="330" width="4" height="1"/>
<rect x="80" y="300" width="4" height="1"/>
<rect x="80" y="280" width="4" height="1"/>
<rect x="80" y="263" width="4" height="1"/>
<rect x="80" y="250" width="4" height="1"/>
<rect x="80" y="239" width="4" height="1"/>
<rect x="80" y="230" width="4" height="1"/>
<rect x="80" y="221" width="4" height="1"/>
<rect x="80" y="164" width="4" height="1"/>
<rect x="80" y="134" width="4" height="1"/>
<rect x="80" y="114" width="4" height="1"/>
<rect x="80" y="97" width="4" height="1"/>
<rect x="80" y="84" width="4" height="1"/>
<rect x="80" y="73" width="4" height="1"/>
<rect x="80" y="64" width="4" height="1"/>
<rect x="80" y="55" width="4" height="1"/>
<rect x="84" y="596" width="1" height="9"/>
<rect x="107" y="596" width="1" height="5"/>
<rect x="130" y="596" width="1" height="5"/>
<rect x="153" y="596" width="1" height="5"/>
<rect x="176" y="596" width="1" height="5"/>
<rect x="199" y="596" width="1" height="5"/>
<rect x="223" y="596" width="1" height="9"/>
<rect x="246" y="596" width="1" height="5"/>
<rect x="269" y="596" width="1" height="5"/>
<rect x="292" y="596" width="1" height="5"/>
<rect x="315" y="596" width="1" height="5"/>
<rect x="338" y="596" width="1" height="5"/>
<rect x="362" y="596" width="1" height="9"/>
<rect x="385" y="596" width="1" height="5"/>
<rect x="408" y="596" width="1" height="5"/>
<rect x="431" y="596" width="1" height="5"/>
<rect x="454" y="596" width="1" height="5"/>
<rect x="477" y="596" width="1" height="5"/>
<rect x="501" y="596" width="1" height="9"/>
<rect x="524" y="596" width="1" height="5"/>
<rect x="547" y="596" width="1" height="5"/>
<rect x="570" y="596" width="1" height="5"/>
<rect x="593" y="596" width="1" height="5"/>
<rect x="616" y="596" width="1" height="5"/>
<rect x="640" y="596" width="1" height="9"/>
</g>
<text transform="translate(0,554) scale(1,1.029)" x="47.6 56" y="0" xml:space="preserve">10</text>
<text transform="translate(0,548) scale(1,1.029)" x="64.4" y="0" xml:space="preserve">1</text>
<text transform="translate(0,388) scale(1,1.029)" x="47.6 56" y="0" xml:space="preserve">10</text>
<text transform="translate(0,382) scale(1,1.029)" x="64.7" y="0" xml:space="preserve">2</text>
<text transform="translate(0,222) scale(1,1.029)" x="47.6 56" y="0" xml:space="preserve">10</text>
<text transform="translate(0,216) scale(1,1.029)" x="64.4" y="0" xml:space="preserve">3</text>
<text transform="translate(0,56) scale(1,1.029)" x="47.6 56" y="0" xml:space="preserve">10</text>
<text transform="translate(0,50) scale(1,1.029)" x="64.3" y="0" xml:space="preserve">4</text>
<text transform="translate(0,620) scale(1,1.029)" x="66 74 81.6 86 94" y="0" xml:space="preserve">00:00</text>
<text transform="translate(0,620) scale(1,1.029)" x="205 212.8 220.6 225 233" y="0" xml:space="preserve">06:00</text>
<text transform="translate(0,620) scale(1,1.029)" x="343.6 351.8 359.6 364 372" y="0" xml:space="preserve">12:00</text>
<text transform="translate(0,620) scale(1,1.029)" x="482.6 490.8 498.6 503 511" y="0" xml:space="preserve">18:00</text>
<text transform="translate(0,620) scale(1,1.029)" x="622 630 637.6 642 650" y="0" xml:space="preserve">00:00</text>
<text transform="translate(0,632) scale(1,1.029)" x="65.6 74 82 90 98.2 102 109.6 118.2 122 130" y="0" xml:space="preserve">1979-03-09</text>
<text transform="translate(0,632) scale(1,1.029)" x="621.6 630 638 646 654.2 658 665.6 674.2 677.6 686" y="0" xml:space="preserve">1979-03-10</text>
<text transform="translate(0,39) scale(1,1.029)" x="101.67 112.13 119.84 129.19 133.01 136.82 145.22 149.72 159.84 167.56 175.55 183.72 186.82 191.5 199.47 207.16 215.06 218.87 226.89 232.81 236.72 247.33 255.66 260.72 268.58 276.57 283.76 287.58 295.75 299.67 304.67 311.6 319.55 324.56 329.69 333.31 341.79 349.44 353.25 360.15 368.18 375.43 383.42 391.57 399.56 403.68 411.12 418.21 425.78 430.81 438.45 446.16 454.42 458.44 465.85 470.23 474.04 482.39 486.72 494.44 498.25 505.15 513.18 520.43 528.42 536.57 544 547.81 559.81 567.48 575.41 583.73 586.87 591.59 599.61 608.14 615.53" y="0" xml:space="preserve">MAG  B-Magnitude by Method 1 (F1): 48 second average of 9.6 second magnitudes</text>
<text transform="translate(39,0) rotate(-90) scale(1,1.029)" x="-390.18 -381.77 -377.16 -366.33 -359.4 -351.4 -343.32 -340.21 -335.52 -327.44 -319.64 -311.35 -307.33 -302.3 -295.54 -288.15 -282.25 -278.33 -273.5 -265.94 -258.35" y="0" xml:space="preserve">B-Magnitude (F1) (nT)</text>
</svg></body></html>
